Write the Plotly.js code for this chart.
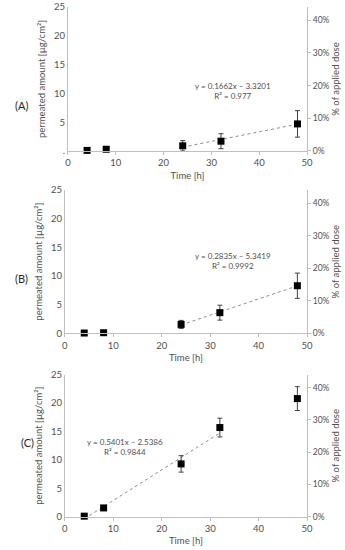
<!DOCTYPE html>
<html>
<head>
<meta charset="utf-8">
<script src="https://cdn.plot.ly/plotly-3.0.1.min.js"></script>
<style>html,body{margin:0;padding:0;background:#fff;}#chart{width:345px;height:550px;}</style>
</head>
<body>
<div id="chart"></div>
<script>
// Data
const time = [4, 8, 24, 32, 48];
const amountA = [0.1, 0.3, 0.9, 1.7, 4.7];
const errA = [0, 0, 0.9, 1.3, 2.3];
const amountB = [0.05, 0.1, 1.55, 3.6, 8.3];
const errB = [0, 0, 0.7, 1.3, 2.2];
const amountC = [0.1, 1.55, 9.3, 15.7, 20.8];
const errC = [0, 0.35, 1.45, 1.65, 2.1];

const trendXA = [24, 48];
const trendYA = [0.67, 4.66];
const trendXB = [24, 48];
const trendYB = [1.46, 8.27];
const trendXC = [4, 32];
const trendYC = [-0.38, 14.74];

const panelLabels = ['(A)', '(B)', '(C)'];
const eqLabels = ['y = 0.1662x \u2013 3.3201', 'y = 0.2835x \u2013 5.3419', 'y = 0.5401x \u2013 2.5386'];
const r2Labels = ['R\u00b2 = 0.977', 'R\u00b2 = 0.9992', 'R\u00b2 = 0.9844'];
const xTicks = [0, 10, 20, 30, 40, 50];
const yTicks = [0, 5, 10, 15, 20, 25];
const pctTicks = [0, 10, 20, 30, 40];
const pctLabels = ['0%', '10%', '20%', '30%', '40%'];

const FONT = 'Lato, "Liberation Sans", sans-serif';
const TXT = '#505050';
const LINE = '#bfbfbf';

const panels = [
  {amt: amountA, err: errA, tx: trendXA, ty: trendYA, xd: [0.197, 0.890], yd: [0.7255, 0.9873], eq: [34.5, 10.4]},
  {amt: amountB, err: errB, tx: trendXB, ty: trendYB, xd: [0.188, 0.890], yd: [0.394, 0.6545], eq: [34.7, 12.6]},
  {amt: amountC, err: errC, tx: trendXC, ty: trendYC, xd: [0.188, 0.890], yd: [0.0605, 0.3187], eq: [12.4, 12.3]}
];
const labelX = [0.037, 0.037, 0.055];
const labelY = [0.8236, 0.4945, 0.1805];

const data = [];
const layout = {
  width: 345, height: 550,
  margin: {l: 0, r: 0, t: 0, b: 0},
  paper_bgcolor: '#fff', plot_bgcolor: '#fff',
  showlegend: false,
  font: {family: FONT, size: 9, color: TXT},
  annotations: []
};

panels.forEach((p, i) => {
  const n = i + 1;
  const xs = n === 1 ? '' : String(n);
  const ysL = n === 1 ? '' : String(n);
  const ysR = String(n + 3);
  data.push({
    type: 'scatter', mode: 'lines', x: p.tx, y: p.ty,
    xaxis: 'x' + xs, yaxis: 'y' + ysL,
    line: {color: '#8c8c8c', width: 1, dash: 'dot'}, hoverinfo: 'skip'
  });
  data.push({
    type: 'scatter', mode: 'markers', x: time, y: p.amt,
    xaxis: 'x' + xs, yaxis: 'y' + ysL, cliponaxis: false,
    marker: {symbol: 'square', size: 7, color: '#000'},
    error_y: {type: 'data', array: p.err, visible: true, color: '#404040', thickness: 1, width: 2.5}
  });
  layout['xaxis' + xs] = {
    domain: p.xd, anchor: 'y' + ysL, range: [0, 50],
    tickvals: xTicks, ticks: 'outside', ticklen: 3, tickcolor: LINE,
    showline: true, linecolor: LINE, linewidth: 1, showgrid: false, zeroline: false,
    tickfont: {size: 9.5, color: TXT, family: FONT},
    title: {text: 'Time [h]', font: {size: 9.5, color: TXT, family: FONT}, standoff: 4}
  };
  layout['yaxis' + ysL] = {
    domain: p.yd, anchor: 'x' + xs, range: [0, 25],
    tickvals: yTicks, ticktext: n === 1 ? ['.', '5', '10', '15', '20', '25'] : yTicks.map(String),
    ticks: '', showline: true, linecolor: LINE, linewidth: 1, showgrid: false, zeroline: false,
    tickfont: {size: 9.5, color: TXT, family: FONT},
    title: {text: 'permeated amount [\u00b5g/cm\u00b2]', font: {size: 9.5, color: TXT, family: FONT}, standoff: 6}
  };
  layout['yaxis' + ysR] = {
    domain: p.yd, anchor: 'x' + xs, overlaying: 'y' + ysL, side: 'right', range: [0, 44],
    tickvals: pctTicks, ticktext: pctLabels,
    ticks: 'outside', ticklen: 3, tickcolor: LINE,
    showline: true, linecolor: LINE, linewidth: 1, showgrid: false, zeroline: false,
    tickfont: {size: 8.5, color: TXT, family: FONT},
    title: {text: '% of applied dose', font: {size: 9.5, color: TXT, family: FONT}, standoff: 2}
  };
  data.push({
    type: 'scatter', mode: 'markers', x: [null], y: [null],
    xaxis: 'x' + xs, yaxis: 'y' + ysR, hoverinfo: 'skip', showlegend: false
  });
  layout.annotations.push({
    xref: 'paper', yref: 'paper', x: labelX[i], y: labelY[i], text: panelLabels[i],
    showarrow: false, font: {size: 11, color: '#262626', family: FONT}
  });
  layout.annotations.push({
    xref: 'x' + xs, yref: 'y' + ysL, x: p.eq[0], y: p.eq[1], yshift: 0,
    text: eqLabels[i] + '<br>' + r2Labels[i], align: 'center',
    showarrow: false, font: {size: 8, color: TXT, family: FONT}
  });
});

Plotly.newPlot('chart', data, layout, {displayModeBar: false, staticPlot: true});
</script>
</body>
</html>
